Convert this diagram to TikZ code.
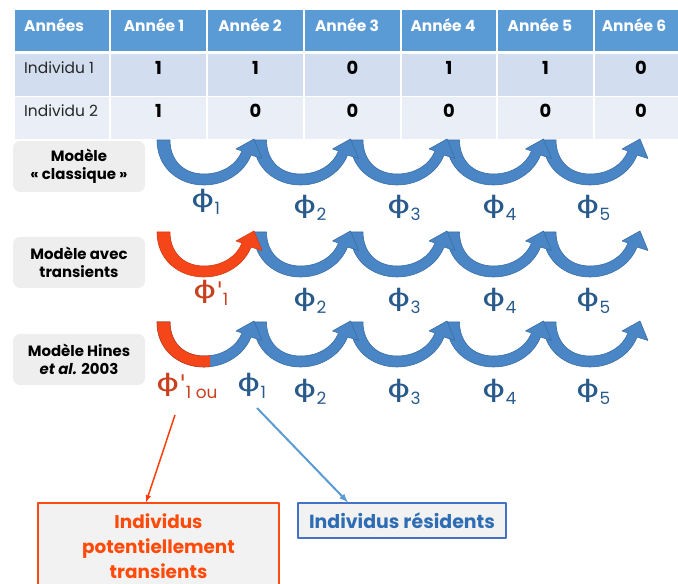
\documentclass[tikz,border=0pt]{standalone}
\usepackage{fontspec}
\setmainfont{Poppins}
\newfontfamily\phifont{DejaVu Sans}
\usetikzlibrary{positioning}

\definecolor{headblue}{HTML}{5B9BD5}
\definecolor{rowone}{HTML}{D2DEEF}
\definecolor{rowtwo}{HTML}{EAEFF7}
\definecolor{labelgray}{HTML}{EEEEEE}
\definecolor{arrowblue}{HTML}{4A86C5}
\definecolor{arrowblueedge}{HTML}{3A6EA5}
\definecolor{arrowred}{HTML}{F5461A}
\definecolor{arrowrededge}{HTML}{D63A10}
\definecolor{phiblue}{HTML}{285A8C}
\definecolor{phired}{HTML}{C8401E}
\definecolor{linered}{HTML}{FF3D0A}
\definecolor{lineblue}{HTML}{5B9BD5}
\definecolor{boxred}{HTML}{FF4A14}
\definecolor{boxblue}{HTML}{4472C4}
\definecolor{textred}{HTML}{FF4A0A}
\definecolor{textblue}{HTML}{2E6DB4}

\newcommand{\phisub}[2]{{\phifont\scalebox{1.55}[1.05]{ϕ}#2}\raisebox{-0.3em}{\fontsize{17}{17}\selectfont #1}}
\newcommand{\bendarrow}[3]{%
  \begin{scope}[shift={(#1bp,#2bp)},x=1bp,y=1bp]
    \path[#3] (0,0) .. controls (0,-28) and (22,-45) .. (47,-45)
      .. controls (70,-45) and (88,-31) .. (94,-15) -- (105,-18.5) -- (97,1)
      -- (79,-9) -- (85,-11) .. controls (80,-24) and (66,-34) .. (47,-34)
      .. controls (26,-34) and (13,-20) .. (13,0) -- cycle;
  \end{scope}}

\tikzset{
  headcell/.style={text=white,font=\bfseries\fontsize{15.5}{17}\selectfont},
  namecell/.style={text=black!85,font=\fontsize{15.5}{17}\selectfont,anchor=west,inner sep=0pt},
  numcell/.style={text=black,font=\bfseries\fontsize{18}{20}\selectfont},
  modelbox/.style={fill=labelgray,rounded corners=7bp,minimum width=132bp,minimum height=51bp,
    align=center,font=\bfseries\fontsize{15}{18}\selectfont,inner sep=0pt},
  blueband/.style={fill=arrowblue,draw=arrowblueedge,line width=0.6bp},
  redband/.style={fill=arrowred,draw=arrowrededge,line width=0.6bp},
  phinode/.style={text=phiblue,font=\fontsize{23}{26}\selectfont,anchor=base west,inner sep=0pt},
  phitrans/.style={phinode,text=phired},
}

\begin{document}
\begin{tikzpicture}[>=latex,line join=bevel]
\useasboundingbox (0,0) rectangle (678bp,584bp);
%% table
\fill[headblue] (15bp,533bp) rectangle (678bp,574bp);
\fill[rowone] (15bp,488bp) rectangle (678bp,530bp);
\fill[rowtwo] (15bp,445bp) rectangle (678bp,487bp);
\draw[white,line width=1.5bp] (110bp,445bp) -- (110bp,574bp) (207bp,445bp) -- (207bp,574bp)
  (304bp,445bp) -- (304bp,574bp) (401bp,445bp) -- (401bp,574bp)
  (497bp,445bp) -- (497bp,574bp) (594bp,445bp) -- (594bp,574bp);
\node (annees) at (24bp,559bp) [headcell,anchor=west,inner sep=0pt] {Années};
\node (annee1) at (154bp,559bp) [headcell] {Année 1};
\node (annee2) at (250bp,559bp) [headcell] {Année 2};
\node (annee3) at (347bp,559bp) [headcell] {Année 3};
\node (annee4) at (443bp,559bp) [headcell] {Année 4};
\node (annee5) at (540bp,559bp) [headcell] {Année 5};
\node (annee6) at (634bp,559bp) [headcell] {Année 6};
\node (individu1) at (24bp,516bp) [namecell] {Individu 1};
\node (ind1an1) at (158.5bp,516bp) [numcell] {1};
\node (ind1an2) at (255.5bp,516bp) [numcell] {1};
\node (ind1an3) at (352.5bp,516bp) [numcell] {0};
\node (ind1an4) at (449bp,516bp) [numcell] {1};
\node (ind1an5) at (545.5bp,516bp) [numcell] {1};
\node (ind1an6) at (641bp,516bp) [numcell] {0};
\node (individu2) at (24bp,473bp) [namecell] {Individu 2};
\node (ind2an1) at (158.5bp,473bp) [numcell] {1};
\node (ind2an2) at (255.5bp,473bp) [numcell] {0};
\node (ind2an3) at (352.5bp,473bp) [numcell] {0};
\node (ind2an4) at (449bp,473bp) [numcell] {0};
\node (ind2an5) at (545.5bp,473bp) [numcell] {0};
\node (ind2an6) at (641bp,473bp) [numcell] {0};
%% models
\node (classique) at (79bp,417.5bp) [modelbox] {Modèle\\« classique »};
\node (transients) at (79bp,321.5bp) [modelbox] {Modèle avec\\transients};
\node (hines) at (79bp,224.5bp) [modelbox] {Modèle Hines\\\textit{et al.} 2003};
%% arrows, row 1
\bendarrow{543}{444}{blueband}
\bendarrow{446.5}{444}{blueband}
\bendarrow{350}{444}{blueband}
\bendarrow{253.5}{444}{blueband}
\bendarrow{157}{444}{blueband}
%% arrows, row 2
\bendarrow{543}{352}{blueband}
\bendarrow{446.5}{352}{blueband}
\bendarrow{350}{352}{blueband}
\bendarrow{253.5}{352}{blueband}
\bendarrow{157}{352}{redband}
%% arrows, row 3
\bendarrow{543}{262}{blueband}
\bendarrow{446.5}{262}{blueband}
\bendarrow{350}{262}{blueband}
\bendarrow{253.5}{262}{blueband}
\bendarrow{157}{262}{blueband}
\begin{scope}
  \clip (140bp,200bp) rectangle (210bp,270bp);
  \bendarrow{157}{262}{redband}
\end{scope}
%% survival labels
\node (phi1) at (191bp,376bp) [phinode] {\phisub{1}{}};
\node (phi2) at (293bp,370bp) [phinode] {\phisub{2}{}};
\node (phi3) at (387bp,370bp) [phinode] {\phisub{3}{}};
\node (phi4) at (482bp,370bp) [phinode] {\phisub{4}{}};
\node (phi5) at (576bp,370bp) [phinode] {\phisub{5}{}};
\node (phiprime1) at (193bp,285bp) [phitrans] {\phisub{1}{'}};
\node (phi2b) at (293bp,277bp) [phinode] {\phisub{2}{}};
\node (phi3b) at (387bp,277bp) [phinode] {\phisub{3}{}};
\node (phi4b) at (482bp,277bp) [phinode] {\phisub{4}{}};
\node (phi5b) at (576bp,277bp) [phinode] {\phisub{5}{}};
\node (phiprime1c) at (156bp,192bp) [phitrans] {\phisub{1 ou}{'}};
\node (phi1c) at (237bp,192bp) [phinode] {\phisub{1}{}};
\node (phi2c) at (293bp,186bp) [phinode] {\phisub{2}{}};
\node (phi3c) at (387bp,186bp) [phinode] {\phisub{3}{}};
\node (phi4c) at (482bp,186bp) [phinode] {\phisub{4}{}};
\node (phi5c) at (576bp,186bp) [phinode] {\phisub{5}{}};
%% outcome boxes
\node (transientbox) at (158.5bp,37.5bp) [draw=boxred,line width=1.2bp,fill=black!5,minimum width=241bp,minimum height=87bp,
  align=center,text=textred,font=\bfseries\fontsize{18.5}{25}\selectfont] {Individus\\potentiellement\\transients};
\node (residentbox) at (402bp,63.5bp) [draw=boxblue,line width=1.2bp,fill=black!5,minimum width=208bp,minimum height=35bp,
  text=textblue,font=\bfseries\fontsize{19}{22}\selectfont] {Individus résidents};
\coordinate (transstart) at (175bp,169bp);
\coordinate (residentstart) at (257bp,176bp);
\draw [linered,line width=1.5bp,->] (transstart) -- ([xshift=-12.5bp]transientbox.north);
\draw [lineblue,line width=2bp,->] (residentstart) -- ([xshift=-54bp]residentbox.north);
%
\end{tikzpicture}
\end{document}
